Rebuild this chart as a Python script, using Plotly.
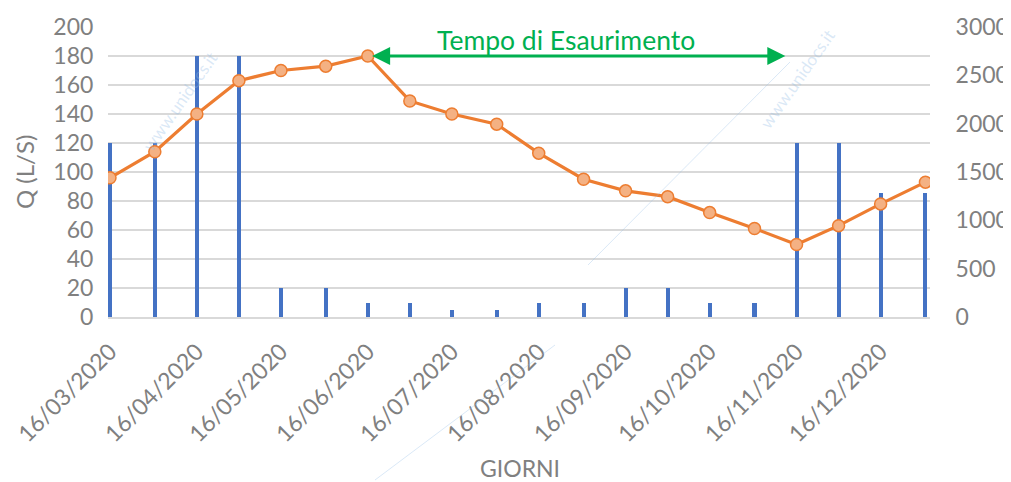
import plotly.graph_objects as go

# ---- data ----
dates = ["2020-03-16", "2020-04-01", "2020-04-16", "2020-05-01", "2020-05-16",
         "2020-06-01", "2020-06-16", "2020-07-01", "2020-07-16", "2020-08-01",
         "2020-08-16", "2020-09-01", "2020-09-16", "2020-10-01", "2020-10-16",
         "2020-11-01", "2020-11-16", "2020-12-01", "2020-12-16", "2021-01-01"]
portata_q = [96, 114, 140, 163, 170, 173, 180, 149, 140, 133,
             113, 95, 87, 83, 72, 61, 50, 63, 78, 93]
pioggia = [1800, 1800, 2700, 2700, 300, 300, 150, 150, 75, 75,
           150, 150, 300, 300, 150, 150, 1800, 1800, 1280, 1280]
tick_dates = ["2020-03-16", "2020-04-16", "2020-05-16", "2020-06-16", "2020-07-16",
              "2020-08-16", "2020-09-16", "2020-10-16", "2020-11-16", "2020-12-16"]
tick_labels = ["16/03/2020", "16/04/2020", "16/05/2020", "16/06/2020", "16/07/2020",
               "16/08/2020", "16/09/2020", "16/10/2020", "16/11/2020", "16/12/2020"]
arrow_start = "2020-06-17"
arrow_end = "2020-11-12"
arrow_level = 180
annotation_text = "Tempo di Esaurimento"

FONT = "Lato"
GRAY = "#808080"
DAY_MS = 86400000
OFF = 8  # page body margin
W, H = 1011 - OFF, 482 - OFF
L, T = 108 - OFF, 27 - OFF
PW, PH = 930 - 108, 317 - 27
R, B = W - L - PW, H - T - PH


def px(x, y):
    """window pixel position -> paper coordinates"""
    return (x - OFF - L) / PW, (H - B - (y - OFF)) / PH


fig = go.Figure()
fig.add_trace(go.Bar(x=dates, y=pioggia, yaxis="y", width=1.45 * DAY_MS,
                     marker=dict(color="#4472C4", line=dict(width=0)),
                     showlegend=False))
fig.add_trace(go.Scatter(x=dates, y=portata_q, yaxis="y2", mode="lines+markers",
                         line=dict(color="#ED7D31", width=3.2),
                         marker=dict(size=12, color="#F4B183",
                                     line=dict(color="#ED7D31", width=1.5)),
                         showlegend=False))

fig.add_annotation(x=arrow_end, y=arrow_level, ax=arrow_start, ay=arrow_level,
                   xref="x", yref="y2", axref="x", ayref="y2", text="",
                   showarrow=True, arrowhead=2, startarrowhead=2,
                   arrowside="end+start", arrowwidth=3, arrowsize=1.2,
                   startarrowsize=1.2, arrowcolor="#00B050")
tx, ty = px(566, 40)
fig.add_annotation(x=tx, y=ty, xref="paper", yref="paper", text=annotation_text,
                   showarrow=False, xanchor="center", yanchor="middle",
                   font=dict(family=FONT, size=26.5, color="#00B050"))

# axis titles
gx, gy = px(520, 468)
fig.add_annotation(x=gx, y=gy, xref="paper", yref="paper", text="GIORNI",
                   showarrow=False, xanchor="center", yanchor="middle",
                   font=dict(family=FONT, size=23, color=GRAY))
qx, qy = px(24, 172)
fig.add_annotation(x=qx, y=qy, xref="paper", yref="paper", text="Q (L/S)",
                   showarrow=False, xanchor="center", yanchor="middle", textangle=-90,
                   borderpad=0,
                   font=dict(family=FONT, size=24, color=GRAY))

# faint watermarks
for wx_, wy_ in [(135, 45), (842, 22)]:
    wx, wy = px(wx_, wy_)
    fig.add_annotation(x=wx, y=wy, xref="paper", yref="paper", text="www.unidocs.it",
                       showarrow=False, textangle=-55,
                       font=dict(family=FONT, size=17, color="rgba(150,190,230,0.35)"))
for (x0, y0, x1, y1) in [(588, 265, 790, 62), (375, 480, 555, 345)]:
    a0, b0 = px(x0, y0)
    a1, b1 = px(x1, y1)
    fig.add_shape(type="line", xref="paper", yref="paper", x0=a0, y0=b0, x1=a1, y1=b1,
                  line=dict(color="rgba(150,190,230,0.35)", width=1))

fig.update_layout(
    width=W, height=H,
    margin=dict(l=L, r=R, t=T, b=B, autoexpand=False),
    paper_bgcolor="white", plot_bgcolor="white",
    font=dict(family=FONT, size=23, color=GRAY),
    bargap=0,
    xaxis=dict(type="date", range=["2020-03-15 07:00", "2021-01-02 15:00"],
               automargin=False,
               tickmode="array", tickvals=tick_dates, ticktext=tick_labels,
               tickangle=-45, ticks="outside", ticklen=10, tickcolor="rgba(0,0,0,0)",
               showgrid=False, showline=True, linecolor="#D9D9D9", linewidth=2,
               tickfont=dict(size=23, color=GRAY)),
    yaxis=dict(side="right", range=[0, 3000], dtick=500, showgrid=False,
               automargin=False,
               zeroline=False, ticks="outside", ticklen=20, tickcolor="rgba(0,0,0,0)",
               tickfont=dict(size=23, color=GRAY)),
    yaxis2=dict(side="left", overlaying="y", range=[0, 200], dtick=20,
                automargin=False,
                showgrid=True, gridcolor="#D9D9D9", gridwidth=1.5, zeroline=False,
                ticks="outside", ticklen=9, tickcolor="rgba(0,0,0,0)",
                tickfont=dict(size=23, color=GRAY)),
)

fig.write_html("out.html")
